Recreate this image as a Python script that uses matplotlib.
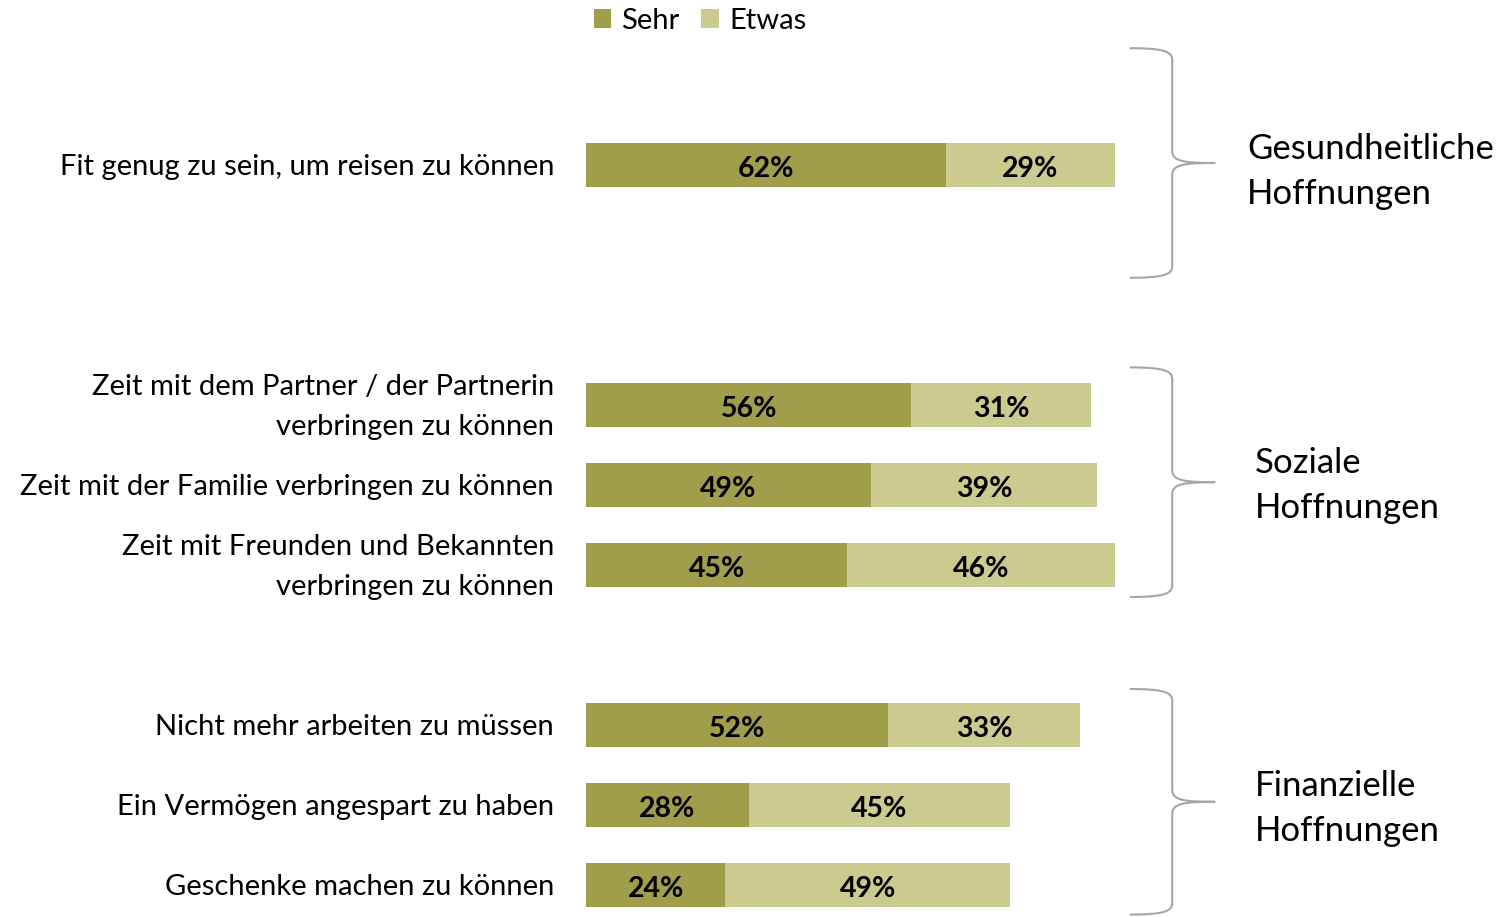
import matplotlib.pyplot as plt
import numpy as np
from matplotlib.path import Path
from matplotlib.patches import PathPatch

plt.rcParams['font.family'] = ['Lato', 'DejaVu Sans']

labels = ['Fit genug zu sein, um reisen zu können',
          'Zeit mit dem Partner / der Partnerin\nverbringen zu können',
          'Zeit mit der Familie verbringen zu können',
          'Zeit mit Freunden und Bekannten\nverbringen zu können',
          'Nicht mehr arbeiten zu müssen',
          'Ein Vermögen angespart zu haben',
          'Geschenke machen zu können']
sehr = [62, 56, 49, 45, 52, 28, 24]
etwas = [29, 31, 39, 46, 33, 45, 49]
positions = [0, 3, 4, 5, 7, 8, 9]

groups = ['Gesundheitliche\nHoffnungen', 'Soziale\nHoffnungen', 'Finanzielle\nHoffnungen']
group_spans = [(-1.46, 1.41), (2.53, 5.4), (6.55, 9.37)]

c_sehr = '#A09E4B'
c_etwas = '#CBCA8F'

W, H = 1501, 917
fig = plt.figure(figsize=(W / 100, H / 100), dpi=100)
# axes: x 0..100 -> px 586..1167, y pos 0 at px 165, 80px per step
ax = fig.add_axes([586 / W, 0, 581 / W, 792 / H])
ax.set_xlim(0, 100)
ax.set_ylim(9.4, -0.5)
ax.axis('off')

b1 = ax.barh(positions, sehr, height=0.55, color=c_sehr, label='Sehr')
b2 = ax.barh(positions, etwas, left=sehr, height=0.55, color=c_etwas, label='Etwas')

for p, s, e in zip(positions, sehr, etwas):
    ax.text(s / 2, p + 0.045, f'{s}%', ha='center', va='center', fontsize=20.5, fontweight='bold')
    ax.text(s + e / 2, p + 0.045, f'{e}%', ha='center', va='center', fontsize=20.5, fontweight='bold')

for p, lab in zip(positions, labels):
    ax.text(-5.5, p + 0.025, lab, ha='right', va='center', fontsize=21, linespacing=1.62)

# braces
label_shift = [0.11, 0.04, 0.09]
for (top, bot), g, dy in zip(group_spans, groups, label_shift):
    mid = (top + bot) / 2
    x0, x1, x2 = 93.6, 100.9, 108.3
    verts = [(x0, top), (x1 - 1, top), (x1, top + 0.05), (x1, top + 0.15),
             (x1, mid - 0.15),
             (x1, mid - 0.02), (x1 + 2, mid), (x2, mid),
             (x1 + 2, mid), (x1, mid + 0.02), (x1, mid + 0.15),
             (x1, bot - 0.15),
             (x1, bot - 0.05), (x1 - 1, bot), (x0, bot)]
    codes = [Path.MOVETO, Path.CURVE4, Path.CURVE4, Path.CURVE4,
             Path.LINETO,
             Path.CURVE4, Path.CURVE4, Path.CURVE4,
             Path.CURVE4, Path.CURVE4, Path.CURVE4,
             Path.LINETO,
             Path.CURVE4, Path.CURVE4, Path.CURVE4]
    ax.add_patch(PathPatch(Path(verts, codes), fc='none', ec='#A6A6A6', lw=1.5, clip_on=False))
    ax.text(113.8 if g.startswith('G') else 115.2, mid + dy, g, ha='left', va='center',
            fontsize=25, linespacing=1.5)

fig.legend(handles=[b1, b2], loc='upper center', bbox_to_anchor=(700 / W, 1.02), ncol=2,
           frameon=False, fontsize=21, handlelength=0.6, handleheight=0.6,
           handletextpad=0.35, columnspacing=0.75)

fig.savefig('out.png', dpi=100)
